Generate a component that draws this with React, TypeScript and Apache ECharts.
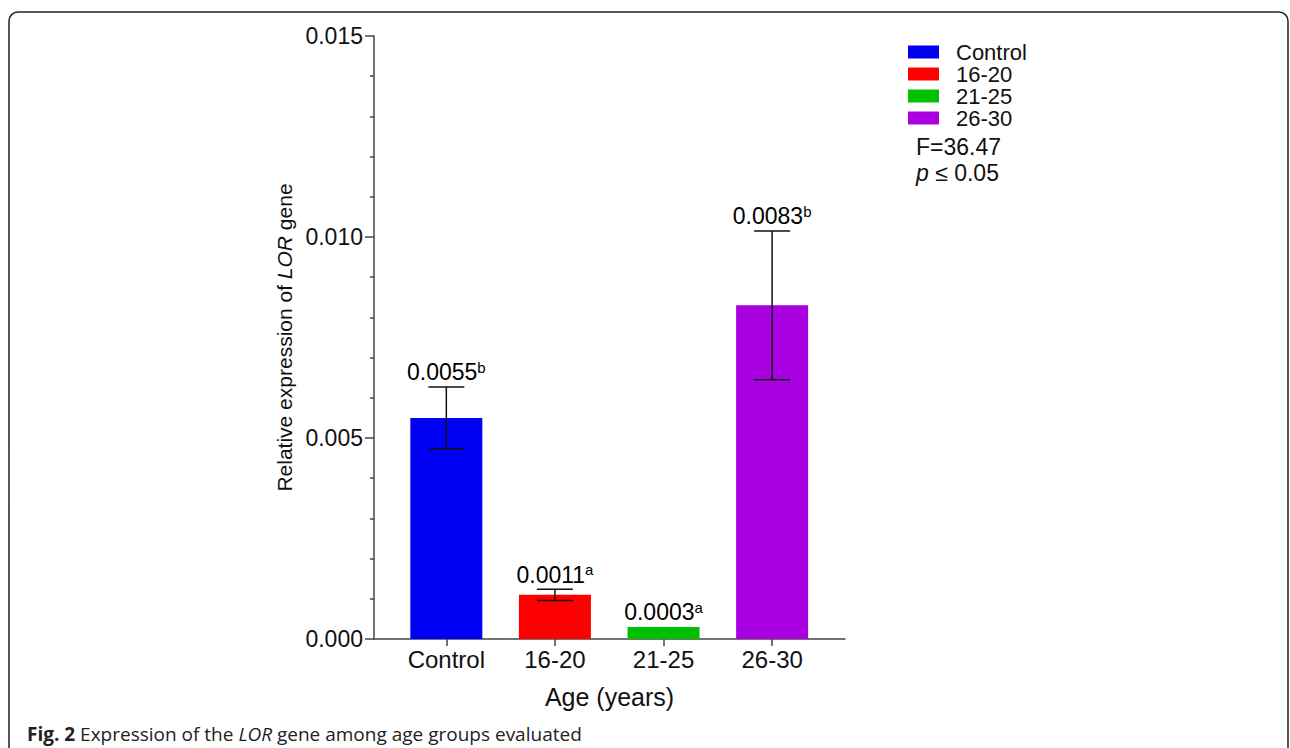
import React, { useEffect, useRef } from "react";
import * as echarts from "echarts";

const categories = ["Control", "16-20", "21-25", "26-30"];
const means = [0.0055, 0.0011, 0.0003, 0.0083];
const errors = [0.00077, 0.00014, 0, 0.00185];
const letters = ["b", "a", "a", "b"];
const yTicks = [0, 0.005, 0.01, 0.015];
const palette = ["#0000f5", "#ff0000", "#00c000", "#a800e0"];
const statF = "F=36.47";
const statP = "0.05";

const FONT = "'Liberation Sans', Arial, sans-serif";
const FS = 23;

export default function App() {
  const ref = useRef<HTMLDivElement>(null);
  useEffect(() => {
    const chart = echarts.init(ref.current!, null, { renderer: "svg" });
    const barSeries = categories.map((name, i) => ({
      name,
      type: "bar",
      barWidth: 72,
      barGap: "-100%",
      itemStyle: { color: palette[i] },
      data: [[i, means[i]]],
    }));
    const option: any = {
      animation: false,
      backgroundColor: "#fff",
      grid: { left: 374, top: 36, width: 471, height: 603 },
      legend: {
        orient: "vertical",
        left: 908,
        top: 41,
        padding: 0,
        itemWidth: 31,
        itemHeight: 13,
        itemGap: 0,
        icon: "rect",
        data: categories,
        textStyle: {
          fontFamily: FONT,
          fontSize: 22,
          lineHeight: 22,
          color: "#111",
          padding: [0, 0, 0, 12],
        },
      },
      xAxis: {
        type: "value",
        min: -0.666,
        max: 3.671,
        name: "Age (years)",
        nameLocation: "middle",
        nameGap: 45,
        nameTextStyle: { fontFamily: FONT, fontSize: 25, color: "#111" },
        splitLine: { show: false },
        axisLine: { show: true, onZero: false, lineStyle: { color: "#444", width: 1.5 } },
        axisTick: {
          show: true,
          length: 7,
          customValues: [0, 1, 2, 3],
          lineStyle: { color: "#444", width: 1.5 },
        },
        axisLabel: {
          customValues: [0, 1, 2, 3],
          formatter: (v: number) => categories[Math.round(v)] ?? "",
          fontFamily: FONT,
          fontSize: 24,
          color: "#111",
          margin: 8,
        },
      },
      yAxis: {
        type: "value",
        min: 0,
        max: 0.015,
        interval: 0.005,
        name: "{n|Relative expression of }{i|LOR}{n| gene}",
        nameLocation: "middle",
        nameGap: 79,
        nameTextStyle: {
          fontFamily: FONT,
          fontSize: 21,
          color: "#111",
          rich: {
            n: { fontFamily: FONT, fontSize: 21, color: "#111" },
            i: { fontFamily: FONT, fontSize: 21, fontStyle: "italic", color: "#111" },
          },
        },
        splitLine: { show: false },
        axisLine: { show: true, onZero: false, lineStyle: { color: "#444", width: 1.5 } },
        axisTick: { show: true, length: 9, lineStyle: { color: "#444", width: 1.5 } },
        minorTick: { show: true, splitNumber: 5, length: 4, lineStyle: { color: "#444", width: 1.5 } },
        axisLabel: {
          formatter: (v: number) => (yTicks.some((t) => Math.abs(t - v) < 1e-9) ? v.toFixed(3) : ""),
          fontFamily: FONT,
          fontSize: FS,
          color: "#111",
          margin: 11,
        },
      },
      series: [
        ...barSeries,
        {
          type: "custom",
          name: "err",
          z: 5,
          data: categories.map((_, i) => [i, means[i], errors[i], i]),
          encode: { x: 0, y: 1 },
          renderItem: (params: any, api: any) => {
            const x = api.value(0);
            const m = api.value(1);
            const e = api.value(2);
            const idx = api.value(3);
            const top = api.coord([x, m + e]);
            const bot = api.coord([x, m - e]);
            const capHalf = 18;
            const children: any[] = [];
            const ls = { stroke: "#111", lineWidth: 1.5 };
            if (e > 0) {
              children.push({ type: "line", shape: { x1: top[0], y1: top[1], x2: bot[0], y2: bot[1] }, style: ls });
              children.push({ type: "line", shape: { x1: top[0] - capHalf, y1: top[1], x2: top[0] + capHalf, y2: top[1] }, style: ls });
              children.push({ type: "line", shape: { x1: bot[0] - capHalf, y1: bot[1], x2: bot[0] + capHalf, y2: bot[1] }, style: ls });
            }
            children.push({
              type: "text",
              x: top[0],
              y: top[1] - 3,
              style: {
                text: "{v|" + means[idx].toFixed(4) + "}{s|" + letters[idx] + "}",
                align: "center",
                verticalAlign: "bottom",
                rich: {
                  v: { fontFamily: FONT, fontSize: FS, color: "#111", lineHeight: 24, verticalAlign: "bottom" },
                  s: { fontFamily: FONT, fontSize: 15, color: "#111", verticalAlign: "top", lineHeight: 15 },
                },
              },
            });
            return { type: "group", children };
          },
        },
      ],
      graphic: [
        {
          type: "rect",
          shape: { x: 9, y: 12, width: 1279, height: 780, r: 9 },
          style: { fill: "none", stroke: "#222", lineWidth: 1.5 },
          silent: true,
        },
        {
          type: "text",
          left: 916,
          top: 135,
          style: { text: statF, font: FS + "px " + FONT, fill: "#111" },
        },
        {
          type: "text",
          left: 916,
          top: 161,
          style: {
            text: "{i|p} \u2264 " + statP,
            font: FS + "px " + FONT,
            fill: "#111",
            rich: { i: { fontFamily: FONT, fontSize: FS, fontStyle: "italic", color: "#111" } },
          },
        },
        {
          type: "text",
          left: 27,
          top: 724,
          style: {
            text: "{b|Fig. 2} Expression of the {i|LOR} gene among age groups evaluated",
            font: "19px 'Open Sans', sans-serif",
            fill: "#222",
            rich: {
              b: { fontFamily: "'Open Sans', sans-serif", fontSize: 19, fontWeight: "bold", color: "#222" },
              i: { fontFamily: "'Open Sans', sans-serif", fontSize: 19, fontStyle: "italic", color: "#222" },
            },
          },
        },
      ],
    };
    chart.setOption(option);
    return () => chart.dispose();
  }, []);
  return (
    <div
      ref={ref}
      style={{ position: "fixed", left: 0, top: 0, width: 1290, height: 748 }}
    />
  );
}
